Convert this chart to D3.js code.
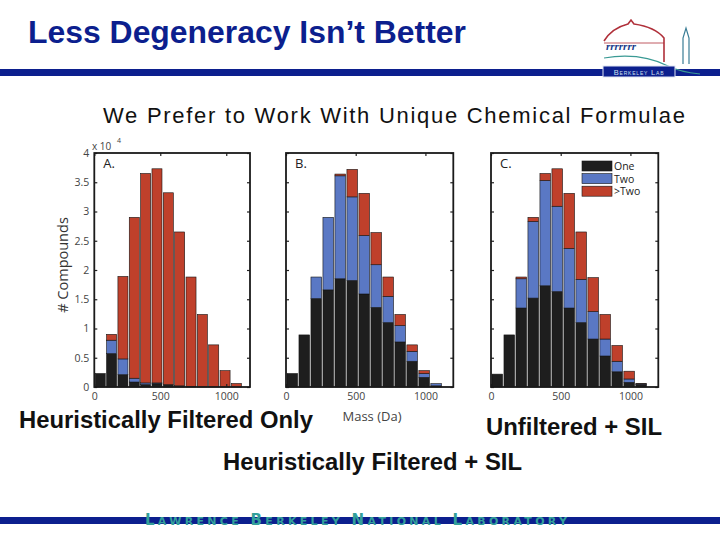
<!DOCTYPE html>
<html><head><meta charset="utf-8">
<script src="https://cdn.jsdelivr.net/npm/d3@7"></script>
<style>body{margin:0;background:#fff}svg{display:block}</style>
</head><body>
<svg id="c" width="720" height="540"></svg>
<script>
// ---- data (counts in units of 10^4) ----
const binCenters = [45,131,217,303,389,475,561,647,733,819,905,991,1077];
const seriesKeys = ["One","Two",">Two"];
const xTicks = [0,500,1000];
const yTicks = [0,0.5,1,1.5,2,2.5,3,3.5,4];
const yTickLabels = ["0","0.5","1","1.5","2","2.5","3","3.5","4"];

const A_one  = [0.23,0.57,0.21,0.085,0.04,0.055,0.04,0.02,0.01,0,0,0,0];
const A_two  = [0,0.23,0.27,0.065,0.03,0.015,0,0,0,0,0,0,0];
const A_more = [0,0.10,1.41,2.75,3.58,3.66,3.28,2.63,1.87,1.24,0.72,0.28,0.06];

const B_one  = [0.23,0.89,1.51,1.66,1.85,1.82,1.59,1.36,1.10,0.77,0.44,0.165,0.02];
const B_two  = [0,0,0.37,1.24,1.76,1.43,1.00,0.73,0.45,0.28,0.17,0.065,0.037];
const B_more = [0,0,0,0,0.03,0.47,0.72,0.55,0.33,0.19,0.11,0.05,0];

const C_one  = [0.22,0.89,1.35,1.52,1.73,1.63,1.35,1.10,0.82,0.53,0.26,0.08,0.04];
const C_two  = [0,0,0.50,1.31,1.80,1.46,1.02,0.74,0.47,0.29,0.18,0.057,0.01];
const C_more = [0,0,0.03,0.07,0.12,0.64,0.94,0.81,0.58,0.42,0.27,0.133,0.007];

const panelLetters = ["A.","B.","C."];
const captions = ["Heuristically Filtered Only","Unfiltered + SIL","Heuristically Filtered + SIL"];

// ---- layout ----
const svg = d3.select("#c");
const navy = "#0c1f8e";
const colors = {"One":"#1e1e1e","Two":"#5a78c4",">Two":"#bf402b"};
const binWidth = 76;
const slideFont = "'Liberation Sans', Arial, sans-serif";
const chartFont = "'Open Sans', 'DejaVu Sans', sans-serif";

// title
svg.append("text").attr("x",28).attr("y",43).attr("font-family",slideFont)
  .attr("font-weight","bold").attr("font-size",31).attr("fill",navy)
  .attr("textLength",438).attr("lengthAdjust","spacingAndGlyphs")
  .text("Less Degeneracy Isn\u2019t Better");
svg.append("rect").attr("x",0).attr("y",69).attr("width",720).attr("height",7).attr("fill",navy);

// logo
const logo = svg.append("g");
logo.append("path").attr("d","M604,41 Q612,28 628,24 L631,20 L634,24 Q655,27 664,38 L664,62")
  .attr("fill","none").attr("stroke","#b0303a").attr("stroke-width",1.6);
logo.append("path").attr("d","M604,43 L664,43").attr("stroke","#b0303a").attr("stroke-width",0.8);
logo.append("text").attr("x",606).attr("y",50).attr("font-family","serif").attr("font-style","italic")
  .attr("font-size",11).attr("font-weight","bold").attr("fill","#1a3b8a").text("rrrrrrr");
logo.append("path").attr("d","M604,58 Q640,52 668,66 Q680,72 700,74")
  .attr("fill","none").attr("stroke","#3a9a94").attr("stroke-width",1.2);
logo.append("path").attr("d","M683,64 L683,38 L686,28 L689,38 L689,64")
  .attr("fill","none").attr("stroke","#3a7d96").attr("stroke-width",1.2);
logo.append("rect").attr("x",603).attr("y",66).attr("width",72).attr("height",11)
  .attr("fill",navy).attr("stroke","#dfe6f3").attr("stroke-width",1);
logo.append("text").attr("x",639).attr("y",75).attr("text-anchor","middle").attr("font-family",slideFont)
  .attr("font-size",7.5).attr("fill","#cfe0ef").attr("font-variant","small-caps").attr("letter-spacing",0.8)
  .text("Berkeley Lab");

// subtitle
svg.append("text").attr("x",103).attr("y",123).attr("font-family",slideFont)
  .attr("font-size",22).attr("fill","#111").attr("textLength",582).attr("lengthAdjust","spacing")
  .text("We Prefer to Work With Unique Chemical Formulae");

// panels
const panels = [
  {one:A_one,two:A_two,more:A_more,x0:94.3,x1:250,dmax:1180,ylabels:true},
  {one:B_one,two:B_two,more:B_more,x0:286,x1:453.3,dmax:1200,ylabels:false},
  {one:C_one,two:C_two,more:C_more,x0:491,x1:658.3,dmax:1200,ylabels:false}
];
const yTop = 153, yBot = 387;

panels.forEach((p,pi)=>{
  const x = d3.scaleLinear().domain([0,p.dmax]).range([p.x0,p.x1]);
  const y = d3.scaleLinear().domain([0,4]).range([yBot,yTop]);
  const g = svg.append("g");
  const rows = binCenters.map((c,i)=>({c, "One":p.one[i], "Two":p.two[i], ">Two":p.more[i]}));
  const stacked = d3.stack().keys(seriesKeys)(rows);
  stacked.forEach(layer=>{
    g.append("g").selectAll("rect").data(layer.filter(d=>d[1]-d[0]>0)).join("rect")
      .attr("x",d=>x(d.data.c-binWidth/2))
      .attr("width",d=>x(d.data.c+binWidth/2)-x(d.data.c-binWidth/2))
      .attr("y",d=>y(d[1]))
      .attr("height",d=>y(d[0])-y(d[1]))
      .attr("fill",colors[layer.key])
      .attr("stroke","#151515").attr("stroke-width",0.6);
  });
  // axes (MATLAB style: inward ticks, box)
  const axB = d3.axisBottom(x).tickValues(xTicks).tickSize(-3).tickPadding(6).tickFormat(d3.format("d"));
  const axT = d3.axisTop(x).tickValues(xTicks).tickSize(-3).tickFormat("");
  const axL = d3.axisLeft(y).tickValues(yTicks).tickSize(-3).tickPadding(5)
     .tickFormat((d,i)=>p.ylabels?yTickLabels[i]:"");
  const axR = d3.axisRight(y).tickValues(yTicks).tickSize(-3).tickFormat("");
  [[axB,`translate(0,${yBot})`],[axT,`translate(0,${yTop})`],[axL,`translate(${p.x0},0)`],[axR,`translate(${p.x1},0)`]]
   .forEach(([ax,tr])=>{
     const a = g.append("g").attr("transform",tr).call(ax);
     a.select(".domain").remove();
     a.selectAll(".tick line").attr("stroke","#222").attr("stroke-width",1.2);
     a.selectAll("text").attr("font-family",chartFont).attr("font-size",10.5).attr("fill","#444");
   });
  g.append("rect").attr("x",p.x0).attr("y",yTop).attr("width",p.x1-p.x0).attr("height",yBot-yTop)
    .attr("fill","none").attr("stroke","#1a1a1a").attr("stroke-width",1.8);
  g.append("text").attr("x",p.x0+9).attr("y",yTop+15).attr("font-family",chartFont)
    .attr("font-size",13).attr("fill","#222").text(panelLetters[pi]);
  if(pi===2){
    const lg = g.append("g");
    seriesKeys.forEach((k,i)=>{
      const yy = 161 + i*12.6;
      lg.append("rect").attr("x",582).attr("y",yy).attr("width",30).attr("height",10)
        .attr("fill",colors[k]).attr("stroke","#151515").attr("stroke-width",0.6);
      lg.append("text").attr("x",614).attr("y",yy+9).attr("font-family",chartFont)
        .attr("font-size",10.5).attr("fill","#222").text(k);
    });
  }
});

// axis titles & exponent
svg.append("text").attr("x",92).attr("y",150).attr("font-family",chartFont).attr("font-size",10)
  .attr("fill","#444").text("x 10");
svg.append("text").attr("x",117).attr("y",143).attr("font-family",chartFont).attr("font-size",7)
  .attr("fill","#444").text("4");
svg.append("text").attr("transform","translate(68,265) rotate(-90)").attr("text-anchor","middle")
  .attr("font-family",chartFont).attr("font-size",14.5).attr("fill","#333").text("# Compounds");
svg.append("text").attr("x",372).attr("y",421).attr("text-anchor","middle")
  .attr("font-family",chartFont).attr("font-size",13).attr("fill","#444").text("Mass (Da)");

// captions
const capPos = [[19,428,294],[486,435,176],[223,470,299]];
captions.forEach((t,i)=>{
  svg.append("text").attr("x",capPos[i][0]).attr("y",capPos[i][1])
    .attr("font-family",slideFont).attr("font-weight","bold").attr("font-size",23)
    .attr("textLength",capPos[i][2]).attr("lengthAdjust","spacingAndGlyphs")
    .attr("fill","#111").text(t);
});

// footer
svg.append("rect").attr("x",0).attr("y",517).attr("width",720).attr("height",7).attr("fill",navy);
svg.append("text").attr("x",145).attr("y",525).attr("font-family","'DejaVu Sans', sans-serif").attr("font-size",15)
  .attr("font-weight","bold").attr("font-variant","small-caps").attr("fill","#33a09a").attr("textLength",422)
  .attr("lengthAdjust","spacing").text("Lawrence Berkeley National Laboratory");
</script>
</body></html>
